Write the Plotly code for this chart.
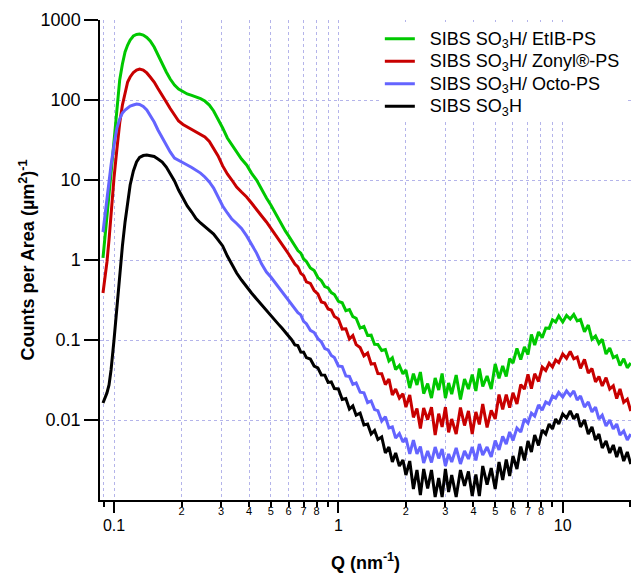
import math
import plotly.graph_objects as go

# Q (nm^-1): steep low-Q part and the long noisy tail
q_low = [0.0893, 0.091, 0.093, 0.095, 0.097, 0.100, 0.103, 0.106, 0.109, 0.112,
         0.115, 0.118, 0.122, 0.126, 0.130, 0.135, 0.140, 0.145, 0.151, 0.157,
         0.164, 0.171, 0.178, 0.186, 0.194, 0.203, 0.212, 0.222, 0.232, 0.243,
         0.254, 0.266, 0.278, 0.291, 0.305, 0.320, 0.335, 0.352, 0.370, 0.390,
         0.410, 0.432, 0.455, 0.478]
q_high = [0.50, 0.52, 0.54, 0.56, 0.58, 0.60, 0.62, 0.64, 0.66, 0.68,
          0.70, 0.72, 0.75, 0.78, 0.81, 0.84, 0.87, 0.90, 0.93, 0.96,
          1.00, 1.04, 1.08, 1.12, 1.16, 1.20, 1.25, 1.30, 1.35, 1.40,
          1.45, 1.50, 1.56, 1.62, 1.68, 1.74, 1.80, 1.87, 1.94, 2.00,
          2.08, 2.16, 2.24, 2.32, 2.40, 2.50, 2.60, 2.70, 2.80, 2.90,
          3.00, 3.10, 3.20, 3.35, 3.50, 3.65, 3.80, 3.95, 4.10, 4.25,
          4.40, 4.60, 4.80, 5.00, 5.20, 5.40, 5.60, 5.80, 6.00, 6.25,
          6.50, 6.75, 7.00, 7.25, 7.50, 7.80, 8.10, 8.40, 8.70, 9.00,
          9.30, 9.60, 10.0, 10.4, 10.8, 11.2, 11.6, 12.0, 12.5, 13.0,
          13.5, 14.0, 14.5, 15.0, 15.6, 16.2, 16.8, 17.4, 18.0, 18.7,
          19.4, 20.1]

# counts per area
etib_low = [1.06, 1.94, 3.65, 6.68, 12.2, 30.7, 75, 178, 282, 398,
            487, 562, 631, 659, 668, 649, 604, 546, 460, 365,
            290, 224, 183, 154, 137, 126, 119, 114, 109, 104,
            97, 86.6, 72.9, 57.9, 44.7, 33.5, 27.4, 22.4, 18.3, 15.4,
            12.2, 10, 7.5, 5.96]
etib_high = [4.87, 3.98, 3.26, 2.74, 2.31, 2.00, 1.73, 1.50, 1.31, 1.22,
             1.03, 0.958, 0.794, 0.737, 0.603, 0.551, 0.466, 0.447, 0.392, 0.370,
             0.304, 0.292, 0.233, 0.240, 0.196, 0.187, 0.141, 0.148, 0.114, 0.115,
             0.0881, 0.0878, 0.0739, 0.0761, 0.0546, 0.0600, 0.0428, 0.048, 0.0376, 0.0422,
             0.0251, 0.0380, 0.0274, 0.0398, 0.0214, 0.0285, 0.0188, 0.0335, 0.0237, 0.0381,
             0.0188, 0.0290, 0.0211, 0.0365, 0.0181, 0.0326, 0.0244, 0.0370, 0.0231, 0.0440,
             0.0263, 0.0355, 0.0244, 0.0501, 0.0332, 0.0473, 0.0350, 0.0585, 0.0516, 0.0783,
             0.0569, 0.0818, 0.0657, 0.117, 0.0866, 0.126, 0.107, 0.141, 0.140, 0.179,
             0.168, 0.200, 0.168, 0.203, 0.183, 0.208, 0.173, 0.180, 0.127, 0.154,
             0.102, 0.112, 0.0907, 0.102, 0.0668, 0.0794, 0.0603, 0.0634, 0.0481, 0.0582,
             0.0449, 0.0516]

zonyl_low = [0.387, 0.579, 0.944, 1.78, 3.87, 10.6, 24.4, 51.6, 86.6, 126,
             168, 194, 221, 237, 244, 237, 218, 194, 168, 139,
             112, 94.4, 78.3, 64.0, 54.6, 49.4, 46.0, 42.8, 40.4, 37.6,
             34.5, 30.3, 25.1, 20.0, 15.0, 11.9, 10, 8.18, 7.08, 6.13,
             5.16, 4.22, 3.55, 2.99]
zonyl_high = [2.51, 2.11, 1.83, 1.58, 1.37, 1.19, 1.03, 0.891, 0.818, 0.680,
              0.638, 0.534, 0.510, 0.415, 0.376, 0.299, 0.290, 0.244, 0.237, 0.197,
              0.183, 0.137, 0.138, 0.103, 0.114, 0.0876, 0.0804, 0.0634, 0.0688, 0.0501,
              0.0507, 0.0380, 0.0378, 0.0277, 0.0326, 0.0205, 0.0244, 0.0188, 0.0213, 0.0145,
              0.0205, 0.0108, 0.0139, 0.00785, 0.0141, 0.0101, 0.0145, 0.00649, 0.0120, 0.00818,
              0.0145, 0.00700, 0.0103, 0.00668, 0.0143, 0.00853, 0.0130, 0.00668, 0.0126, 0.00881,
              0.0158, 0.00808, 0.0132, 0.0103, 0.0208, 0.0136, 0.0208, 0.0143, 0.0219, 0.0159,
              0.0277, 0.0243, 0.0373, 0.0247, 0.0379, 0.0303, 0.0459, 0.0417, 0.0512, 0.0459,
              0.0562, 0.0522, 0.0670, 0.0591, 0.0718, 0.0582, 0.0610, 0.0442, 0.0573, 0.0385,
              0.0440, 0.0299, 0.0349, 0.0267, 0.0338, 0.0244, 0.0268, 0.0185, 0.0244, 0.0166,
              0.0182, 0.0129]

octo_low = [2.24, 3.55, 5.96, 10.3, 15.4, 27.4, 44.7, 57.9, 68.8, 75.0,
            79.4, 84.1, 86.6, 89.1, 87.8, 82.9, 75.0, 64.9, 53.1, 42.2,
            33.5, 26.6, 22.4, 18.8, 17.5, 16.3, 15.4, 14.3, 13.3, 12.2,
            10.9, 9.44, 7.94, 6.13, 4.73, 3.87, 3.25, 2.86, 2.48, 2.0,
            1.58, 1.22, 0.891, 0.708]
octo_high = [0.613, 0.531, 0.459, 0.398, 0.355, 0.316, 0.282, 0.251, 0.219, 0.206,
             0.171, 0.160, 0.132, 0.124, 0.104, 0.0944, 0.0783, 0.0750, 0.0640, 0.0604,
             0.0473, 0.0466, 0.0355, 0.0350, 0.0279, 0.0290, 0.0223, 0.0219, 0.0165, 0.0173,
             0.0135, 0.0131, 0.00972, 0.0110, 0.00794, 0.00818, 0.00596, 0.00678, 0.00531, 0.00596,
             0.00376, 0.00562, 0.00376, 0.00466, 0.00290, 0.00410, 0.00295, 0.00459, 0.00331, 0.00434,
             0.00266, 0.00376, 0.00299, 0.00447, 0.00282, 0.00410, 0.00326, 0.00459, 0.00312, 0.00501,
             0.00365, 0.00459, 0.00345, 0.00554, 0.00422, 0.00622, 0.00501, 0.00708, 0.00554, 0.00794,
             0.00708, 0.0103, 0.00917, 0.0122, 0.0112, 0.0154, 0.0133, 0.0168, 0.0158, 0.0200,
             0.0188, 0.0221, 0.0194, 0.0231, 0.0202, 0.0231, 0.0178, 0.0200, 0.0145, 0.0168,
             0.0126, 0.0145, 0.0103, 0.0115, 0.00841, 0.0100, 0.00772, 0.00891, 0.00649, 0.00729,
             0.00562, 0.00668]

sibs_low = [0.0163, 0.0188, 0.0218, 0.0274, 0.0422, 0.1, 0.259, 0.688, 1.50, 2.99,
            5.62, 8.66, 13.0, 16.8, 19.1, 20.2, 20.5, 20.2, 19.7, 18.3,
            16.8, 14.5, 12.1, 9.72, 7.5, 5.96, 4.73, 3.98, 3.30, 2.90,
            2.59, 2.34, 2.11, 1.78, 1.50, 1.12, 0.866, 0.688, 0.562, 0.460,
            0.387, 0.326, 0.274, 0.230]
sibs_high = [0.200, 0.178, 0.158, 0.141, 0.126, 0.112, 0.100, 0.0866, 0.0853, 0.0708,
             0.0705, 0.0603, 0.0579, 0.0473, 0.0449, 0.0365, 0.0364, 0.0295, 0.0299, 0.0247,
             0.0244, 0.0181, 0.0186, 0.0137, 0.0150, 0.0115, 0.0122, 0.00866, 0.00891, 0.00668,
             0.00739, 0.00571, 0.00613, 0.00387, 0.00459, 0.00299, 0.00387, 0.00266, 0.00316, 0.00205,
             0.00307, 0.00137, 0.00237, 0.00115, 0.00244, 0.00139, 0.00237, 0.00109, 0.00188, 0.00109,
             0.00244, 0.00126, 0.00205, 0.00109, 0.00237, 0.00150, 0.00228, 0.00112, 0.00208, 0.00112,
             0.00266, 0.00156, 0.00251, 0.00137, 0.00299, 0.00178, 0.00321, 0.00200, 0.00355, 0.00244,
             0.00466, 0.00312, 0.00546, 0.00398, 0.00649, 0.00480, 0.00750, 0.00668, 0.00891, 0.00772,
             0.0103, 0.00891, 0.0119, 0.0106, 0.0130, 0.0103, 0.0119, 0.00818, 0.0100, 0.00668,
             0.00818, 0.00562, 0.00668, 0.00447, 0.00546, 0.00387, 0.00487, 0.00345, 0.00459, 0.00307,
             0.00398, 0.00282]

series_names = ["SIBS SO<sub>3</sub>H/ EtIB-PS", "SIBS SO<sub>3</sub>H/ Zonyl®-PS",
                "SIBS SO<sub>3</sub>H/ Octo-PS", "SIBS SO<sub>3</sub>H"]
series_colors = ["#00C800", "#C80000", "#6464FF", "#000000"]

x_grid_ticks = [0.09, 0.1, 0.2, 0.3, 0.4, 0.5, 0.6, 0.7, 0.8, 0.9,
                1, 2, 3, 4, 5, 6, 7, 8, 9, 10, 20]
x_grid_text = ["", "", "2", "3", "4", "5", "6", "7", "8", "",
               "", "2", "3", "4", "5", "6", "7", "8", "", "", "2"]
x_major_ticks = [0.1, 1, 10]
x_major_text = ["0.1", "1", "10"]
y_ticks = [0.01, 0.1, 1, 10, 100, 1000]
y_text = ["0.01", "0.1", "1", "10", "100", "1000"]

FONT = "Liberation Sans, Arial, Helvetica, sans-serif"
GRID = "#b4b4ea"

fig = go.Figure()
series = [(etib_low, etib_high), (zonyl_low, zonyl_high), (octo_low, octo_high), (sibs_low, sibs_high)]
for (low, high), name, color in zip(series, series_names, series_colors):
    fig.add_trace(go.Scatter(x=q_low + q_high, y=low + high, mode="lines",
                             name='<span style="font-size:18px">\u00a0\u00a0' + name + '</span>',
                             line=dict(color=color, width=3)))

# empty trace so the second x axis (major decade labels) is drawn
fig.add_trace(go.Scatter(x=[], y=[], xaxis="x2", showlegend=False, hoverinfo="skip"))

x_range = [math.log10(0.0866), math.log10(20.15)]

fig.update_layout(
    width=631, height=573,
    margin=dict(l=100, r=0, t=20, b=73),
    paper_bgcolor="white", plot_bgcolor="white",
    font=dict(family=FONT, color="black"),
    showlegend=True,
    legend=dict(x=0.527, y=0.995, xanchor="left", yanchor="top",
                bgcolor="white", borderwidth=0, font=dict(size=15)),
    xaxis=dict(type="log", range=x_range, tickmode="array",
               tickvals=x_grid_ticks, ticktext=x_grid_text,
               ticks="outside", ticklen=5, tickwidth=1.5, tickcolor="black",
               tickfont=dict(size=11), ticklabelstandoff=-5,
               showline=True, linecolor="black", linewidth=1.5,
               showgrid=True, gridcolor=GRID, griddash="dot", gridwidth=1,
               zeroline=False, automargin=False),
    xaxis2=dict(type="log", range=x_range, overlaying="x", anchor="y", side="bottom",
                tickmode="array", tickvals=x_major_ticks, ticktext=x_major_text,
                ticks="outside", ticklen=12, tickwidth=1.5, tickcolor="black",
                tickfont=dict(size=16), ticklabelstandoff=-1,
                showline=False, showgrid=False, zeroline=False, automargin=False,
                title=dict(text="<b>Q (nm<sup>-1</sup>)</b>", font=dict(size=18), standoff=23)),
    yaxis=dict(type="log", range=[-3, 3], tickmode="array",
               tickvals=y_ticks, ticktext=y_text,
               ticks="outside", ticklen=14, tickwidth=1.5, tickcolor="black",
               tickfont=dict(size=18),
               showline=True, linecolor="black", linewidth=1.5,
               showgrid=True, gridcolor=GRID, griddash="dot", gridwidth=1,
               zeroline=False, automargin=False,
               title=dict(text="<b>Counts per Area (µm<sup>2</sup>)<sup>-1</sup></b>",
                          font=dict(size=18), standoff=1)),
)

# the page body has a default 8px margin; remove it so the figure sits at the window corner
fig.write_html("out.html", config={"displayModeBar": False},
               post_script="document.body.style.margin='0px';")
